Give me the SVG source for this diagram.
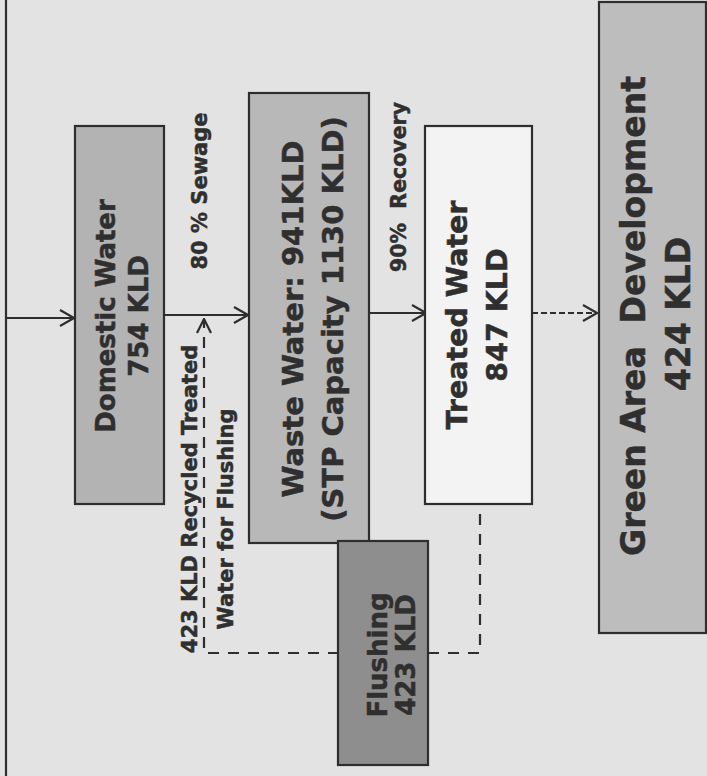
<svg xmlns="http://www.w3.org/2000/svg" width="707" height="776" viewBox="0 0 707 776">
<style>
.bg{fill:#e3e3e3}
.box{stroke:#2e2e2e;stroke-width:2.2}
.t{font-family:"DejaVu Sans",Verdana,sans-serif;font-weight:bold;fill:#2f2f2f;stroke:#2f2f2f;stroke-width:0.5;text-anchor:middle}
.c{fill:none;stroke:#2e2e2e;stroke-width:2.2}
</style>
<defs>
<marker id="ah" viewBox="0 0 16 18" refX="15" refY="9" markerWidth="16" markerHeight="18" markerUnits="userSpaceOnUse" orient="auto">
<path d="M1,1 L15,9 L1,17" fill="none" stroke="#2e2e2e" stroke-width="2.2" stroke-dasharray="none"/>
</marker>
<marker id="ahs" viewBox="0 0 16 16" refX="15" refY="8" markerWidth="16" markerHeight="16" markerUnits="userSpaceOnUse" orient="auto">
<path d="M1,1 L15,8 L1,15" fill="none" stroke="#2e2e2e" stroke-width="2.2" stroke-dasharray="none"/>
</marker>
</defs>
<rect class="bg" x="0" y="0" width="707" height="776"/>
<line x1="6" y1="0" x2="6" y2="776" stroke="#2e2e2e" stroke-width="2.2"/>
<g id="connectors">
<path class="c" d="M6,318 H74" marker-end="url(#ah)"/>
<path class="c" d="M164,315 H248" marker-end="url(#ah)"/>
<path class="c" d="M369,313 H426" marker-end="url(#ah)"/>
<path class="c" d="M532,313 H597" stroke-dasharray="6 3" marker-end="url(#ah)"/>
<path class="c" d="M480,514 V653 H204 V319" stroke-dasharray="11 9" marker-end="url(#ahs)"/>
</g>
<g id="domestic">
<rect class="box" x="75" y="126" width="89" height="378" fill="#b3b3b3"/>
<text class="t" font-size="26" transform="translate(115,316) rotate(-90)">Domestic Water</text>
<text class="t" font-size="26" transform="translate(148,316) rotate(-90)">754 KLD</text>
</g>
<g id="waste">
<rect class="box" x="249" y="93" width="120" height="450" fill="#b8b8b8"/>
<text class="t" font-size="29" transform="translate(303,319) rotate(-90)">Waste Water: 941KLD</text>
<text class="t" font-size="29" transform="translate(343,319) rotate(-90)">(STP Capacity 1130 KLD)</text>
</g>
<g id="flushing">
<rect class="box" x="338" y="541" width="90" height="224" fill="#8e8e8e"/>
<text class="t" font-size="26" transform="translate(387,655) rotate(-90)">Flushing</text>
<text class="t" font-size="26" transform="translate(415,655) rotate(-90)">423 KLD</text>
</g>
<g id="treated">
<rect class="box" x="425" y="126" width="107" height="378" fill="#f3f3f3"/>
<text class="t" font-size="28.5" transform="translate(467,315) rotate(-90)">Treated Water</text>
<text class="t" font-size="28.5" transform="translate(507,315) rotate(-90)">847 KLD</text>
</g>
<g id="green">
<rect class="box" x="599" y="2" width="107" height="631" fill="#bdbdbd"/>
<text class="t" font-size="33" xml:space="preserve" transform="translate(645,316) rotate(-90)">Green Area  Development</text>
<text class="t" font-size="33" transform="translate(690,314) rotate(-90)">424 KLD</text>
</g>
<g id="labels">
<text class="t" font-size="21" transform="translate(207,191) rotate(-90)">80 % Sewage</text>
<text class="t" font-size="20.5" xml:space="preserve" transform="translate(406,187) rotate(-90)">90%  Recovery</text>
<text class="t" font-size="21" transform="translate(197,499) rotate(-90)">423 KLD Recycled Treated</text>
<text class="t" font-size="21" transform="translate(233,519) rotate(-90)">Water for Flushing</text>
</g>
</svg>
